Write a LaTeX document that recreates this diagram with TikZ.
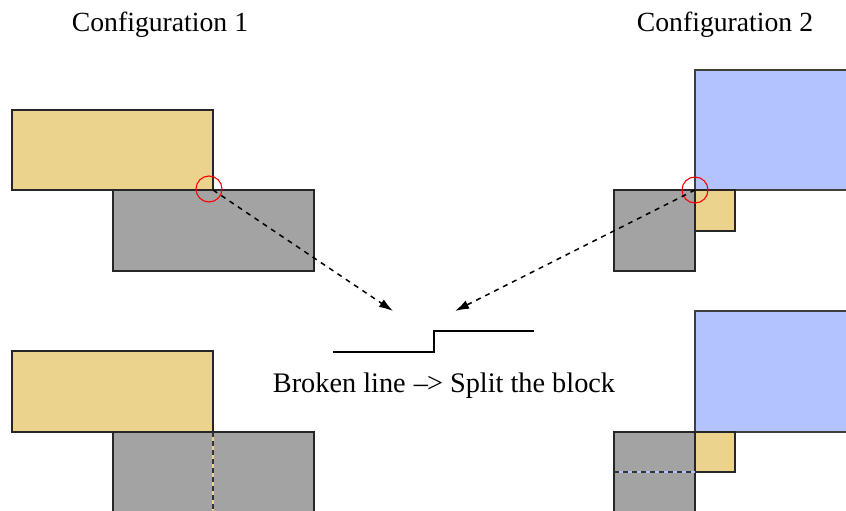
\documentclass[tikz,border=0pt]{standalone}
\usepackage{fontspec}
\setmainfont{Liberation Serif}
\usetikzlibrary{arrows.meta}
\definecolor{blkyellow}{RGB}{235,211,141}
\definecolor{blkgray}{RGB}{163,163,163}
\definecolor{blkblue}{RGB}{178,195,255}

\begin{document}
\begin{tikzpicture}[x=1pt, y=-1pt, line width=1.3pt,
  ylw/.style={draw=black!85, fill=blkyellow},
  gry/.style={draw=black!85, fill=blkgray},
  blu/.style={draw=black!75, fill=blkblue},
  mark circ/.style={draw=red, line width=1.1pt, circle, minimum size=26pt, inner sep=0pt},
  jump/.style={dashed, dash pattern=on 5pt off 5pt, line width=1.5pt, -{Latex[length=14pt, width=9pt]}},
  lbl/.style={font=\fontsize{27.7}{33}\selectfont}]
\useasboundingbox (0,0) rectangle (846,511);
% titles
\node[lbl] (t1) at (160,25) {Configuration 1};
\node[lbl] (t2) at (725,25) {Configuration 2};
% configuration 1, before
\draw[gry] (113,190) rectangle (314,271);
\draw[ylw] (12,110) rectangle (213,190);
\coordinate (k1) at (213,190);
\node[mark circ] (c1) at (209,189) {};
% configuration 2, before
\draw[blu] (695,70) rectangle (848,190);
\draw[gry] (614,190) rectangle (695,271);
\draw[ylw] (695,190) rectangle (735,231);
\coordinate (k2) at (695,190);
\node[mark circ] (c2) at (695,190) {};
% broken line in the middle
\coordinate (s1) at (333,352);
\coordinate (s2) at (434,352);
\coordinate (s3) at (434,331);
\coordinate (s4) at (534,331);
\draw[line width=1.3pt] (s1) -- (s2) -- (s3) -- (s4);
\node[lbl, font=\fontsize{28.3}{33}\selectfont] (brk) at (444,386) {Broken line \kern1pt–\kern-1pt> Split the block};
\coordinate (e1) at (393,311);
\coordinate (e2) at (455,311);
\draw[jump] (k1) -- (e1);
\draw[jump] (k2) -- (e2);
% configuration 1, after
\draw[ylw] (12,351) rectangle (213,432);
\draw[gry] (113,432) rectangle (314,514);
\draw[blkyellow, line width=1.3pt] (213,432) -- (213,514);
\draw[dashed, dash pattern=on 5pt off 4pt, line width=1.3pt, black!80] (213,432) -- (213,514);
% configuration 2, after
\draw[blu] (695,311) rectangle (848,432);
\draw[gry] (614,432) rectangle (695,514);
\draw[ylw] (695,432) rectangle (735,472);
\draw[blkblue, line width=1.3pt] (614,472) -- (695,472);
\draw[dashed, dash pattern=on 5pt off 4pt, line width=1.3pt, black!80] (614,472) -- (695,472);
\end{tikzpicture}
\end{document}
